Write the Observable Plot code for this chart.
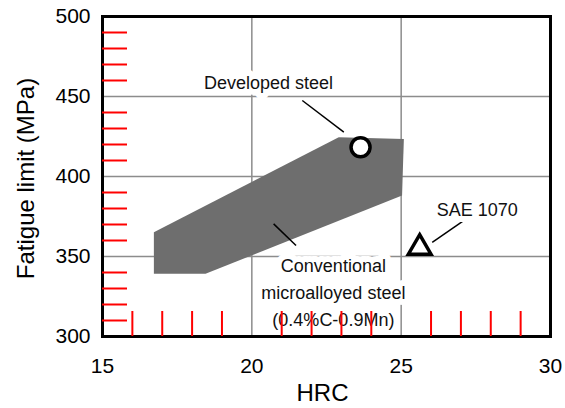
<!DOCTYPE html>
<html><head><meta charset="utf-8">
<script src="https://cdn.jsdelivr.net/npm/d3@7"></script>
<script src="https://cdn.jsdelivr.net/npm/@observablehq/plot@0.6"></script>
<style>body{margin:0;background:#fff} svg{display:block}</style>
</head><body><div id="chart"></div>
<script>
// Conventional microalloyed steel scatter band (polygon vertices)
const bandHRC = [16.72, 16.72, 18.45, 25.03, 25.09, 22.91, 16.72];
const bandMPa = [365.2, 339.2, 339.2, 388.1, 423.5, 424.6, 365.2];

// Individual steels
const pointNames = ["Developed steel", "SAE 1070"];
const pointHRC = [23.64, 25.62];
const pointMPa = [418.3, 355.5];
const pointSymbol = ["circle", "triangle"];

// Annotation labels
const labelTexts = ["Developed steel", "Conventional\nmicroalloyed steel\n(0.4%C-0.9Mn)", "SAE 1070"];
const labelHRC = [20.56, 22.73, 27.55];
const labelMPa = [460, 328.75, 380.6];

// Leader lines
const leaderHRC1 = [21.69, 20.73, 26.04];
const leaderMPa1 = [447.5, 370.4, 358.9];
const leaderHRC2 = [23.08, 21.48, 27.13];
const leaderMPa2 = [427.7, 356.9, 372.9];

// Axes
const xTicks = [15, 20, 25, 30];
const yTicks = [300, 350, 400, 450, 500];
const xGrid = [20, 25];
const yGrid = [350, 400, 450];
const xMinor = [16, 17, 18, 19, 21, 22, 23, 24, 26, 27, 28, 29];
const yMinor = [310, 320, 330, 340, 360, 370, 380, 390, 410, 420, 430, 440, 460, 470, 480, 490];

const band = bandHRC.map((x, i) => ({x, y: bandMPa[i]}));
const points = pointNames.map((n, i) => ({name: n, x: pointHRC[i], y: pointMPa[i], s: pointSymbol[i]}));
const labels = labelTexts.map((t, i) => ({t, x: labelHRC[i], y: labelMPa[i]}));
const leaders = leaderHRC1.map((x1, i) => ({x1, y1: leaderMPa1[i], x2: leaderHRC2[i], y2: leaderMPa2[i]}));

const W = 565, H = 408, mL = 102, mR = 15, mT = 16, mB = 72;
const fw = W - mL - mR, fh = H - mT - mB;
const FONT = "'Liberation Sans', Arial, Helvetica, sans-serif";

const chart = Plot.plot({
  width: W, height: H,
  marginLeft: mL, marginRight: mR, marginTop: mT, marginBottom: mB,
  style: {fontFamily: FONT, fontSize: "21px", color: "black", background: "white"},
  x: {domain: [15, 30]},
  y: {domain: [300, 500]},
  r: {type: "identity"},
  marks: [
    Plot.ruleX(xGrid, {stroke: "#8c8c8c", strokeWidth: 1.5}),
    Plot.ruleY(yGrid, {stroke: "#8c8c8c", strokeWidth: 1.5}),
    Plot.line(band, {x: "x", y: "y", fill: "#6e6e6e", stroke: "none", curve: "linear"}),
    Plot.link(leaders, {x1: "x1", y1: "y1", x2: "x2", y2: "y2", stroke: "black", strokeWidth: 1.5}),
    Plot.text(labels, {x: "x", y: "y", text: "t", fontSize: 18, lineHeight: 1.5, fill: "#111",
      stroke: "white", strokeWidth: 12, paintOrder: "stroke", lineAnchor: "middle", textAnchor: "middle"}),
    Plot.dot(points, {x: "x", y: "y", symbol: "s", r: d => d.s === "circle" ? 9.5 : 8.4,
      fill: "white", stroke: "black", strokeWidth: 3.5}),
    Plot.frame({stroke: "black", strokeWidth: 3}),
    Plot.ruleY(yMinor, {y: d => d, insetRight: fw - 25, stroke: "red", strokeWidth: 2}),
    Plot.ruleX(xMinor, {x: d => d, insetTop: fh - 25, stroke: "red", strokeWidth: 2}),
    Plot.axisX({ticks: xTicks, tickSize: 0, tickPadding: 22, label: null, fontSize: 21}),
    Plot.axisY({ticks: yTicks, tickSize: 0, tickPadding: 12, label: null, fontSize: 21}),
    Plot.text(["HRC"], {frameAnchor: "bottom", dy: 57, dx: -4, fontSize: 24, lineAnchor: "middle"}),
    Plot.text(["Fatigue limit (MPa)"], {frameAnchor: "left", rotate: -90, dx: -76, dy: 2, fontSize: 24, lineAnchor: "middle", textAnchor: "middle"})
  ]
});
document.getElementById("chart").appendChild(chart);
</script>
</body></html>
